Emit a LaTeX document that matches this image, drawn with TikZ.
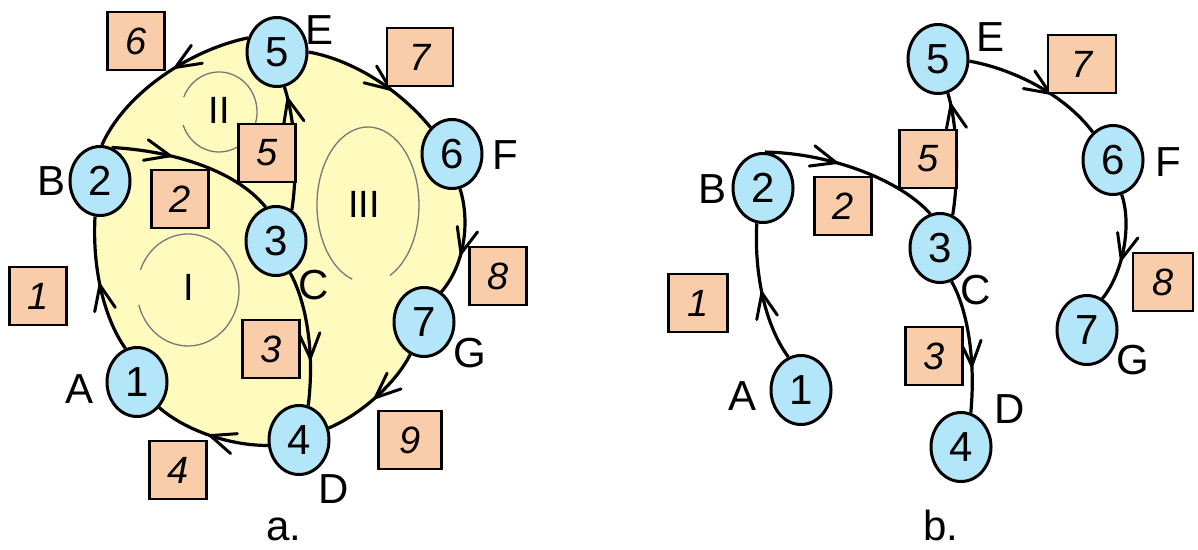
\documentclass[tikz,border=0pt]{standalone}
\usepackage{fontspec}
\setmainfont{Liberation Sans}
\usetikzlibrary{shapes.geometric,decorations.markings,backgrounds}
\definecolor{diskyellow}{RGB}{255,250,190}
\definecolor{vertexblue}{RGB}{180,230,250}
\definecolor{tagpeach}{RGB}{250,205,170}
\definecolor{loopgray}{RGB}{120,120,120}
\begin{document}
\begin{tikzpicture}[x=1pt,y=-1pt,
  vertex/.style={ellipse,draw,line width=3pt,fill=vertexblue,minimum width=60pt,
    minimum height=69pt,inner sep=0pt,font=\fontsize{42}{42}\selectfont},
  tag/.style={rectangle,draw,line width=2.8pt,fill=tagpeach,minimum width=57pt,
    minimum height=58pt,inner sep=0pt,font=\fontsize{38}{38}\selectfont\itshape},
  vlabel/.style={inner sep=0pt,font=\fontsize{42}{42}\selectfont},
  region/.style={inner sep=0pt,font=\fontsize{38}{38}\selectfont},
  link/.style={line width=3.2pt},
  midarrow/.style={postaction={decorate,decoration={markings,
    mark=at position #1 with {\draw[line width=3pt,line cap=round]
      (-25pt,10.5pt) -- (0pt,0pt) -- (-25pt,-10.5pt);}}}},
  looparc/.style={draw=loopgray,line width=1.3pt}
]
\useasboundingbox (0,0) rectangle (1198,549);

% ---------- a. ----------
\node[vertex] (a1) at (137,382) {1};
\node[vertex] (a2) at (100,181) {2};
\node[vertex] (a3) at (276,241) {3};
\node[vertex] (a4) at (299,440) {4};
\node[vertex] (a5) at (277,52) {5};
\node[vertex] (a6) at (452,154) {6};
\node[vertex] (a7) at (424,322) {7};

\node[vlabel] (aA) at (80,389) {A};
\node[vlabel] (aB) at (52,181) {B};
\node[vlabel] (aC) at (314,285) {C};
\node[vlabel] (aD) at (334,489) {D};
\node[vlabel] (aE) at (320,30) {E};
\node[vlabel] (aF) at (505,155) {F};
\node[vlabel] (aG) at (470,353) {G};

% shaded face region bounded by the outer cycle
\begin{scope}[on background layer]
  \fill[diskyellow] (a1.109) .. controls +(-20,-28) and +(-3,55) .. (a2.262)
    -- (a2.87) .. controls +(23,-52) and +(-58,12) .. (a5.154)
    -- (a5.0) .. controls +(45,8) and +(-30,-37) .. (a6.129)
    -- (a6.283) .. controls +(10,32) and +(24,-28) .. (a7.60)
    -- (a7.247) .. controls +(-15,30) and +(31,-13) .. (a4.22)
    -- (a4.190) .. controls +(-40,0) and +(25,22) .. (a1.311) -- cycle;
\end{scope}

% circulation marks of the faces
\draw[looparc] (140.4,269.9) arc[start angle=201,end angle=524.5,x radius=51,y radius=56];
\draw[looparc] (183.8,97.0) arc[start angle=202,end angle=521,x radius=38,y radius=40];
\draw[looparc] (352.2,279.2) arc[start angle=108,end angle=424.5,x radius=51,y radius=78];
\node[region] (rI) at (189,287) {I};
\node[region] (rII) at (219,110) {II};
\node[region] (rIII) at (364,204) {III};

% edges
\draw[link,midarrow=0.5]  (a1.109) .. controls +(-20,-28) and +(-3,55) .. (a2.262);
\draw[link,midarrow=0.35] (a2.71) .. controls +(58,3) and +(-31,-38) .. (a3.107);
\draw[link,midarrow=0.65] (a3.294) .. controls +(15,27) and +(7,-56) .. (a4.75);
\draw[link,midarrow=0.5]  (a4.190) .. controls +(-40,0) and +(25,22) .. (a1.311);
\draw[link,midarrow=0.9]  (a3.63) .. controls +(6,-39) and +(11,34) .. (a5.282);
\draw[link,midarrow=0.42] (a5.154) .. controls +(-58,12) and +(23,-52) .. (a2.87);
\draw[link,midarrow=0.62] (a5.0) .. controls +(45,8) and +(-30,-37) .. (a6.129);
\draw[link,midarrow=0.6]  (a6.283) .. controls +(10,32) and +(24,-28) .. (a7.60);
\draw[link,midarrow=0.5]  (a7.247) .. controls +(-15,30) and +(31,-13) .. (a4.22);

% edge numbers
\node[tag] (t1) at (38,296) {1};
\node[tag] (t2) at (180,199) {2};
\node[tag] (t3) at (271,349) {3};
\node[tag] (t4) at (178,470) {4};
\node[tag] (t5) at (267,153) {5};
\node[tag] (t6) at (136,41) {6};
\node[tag,minimum width=66pt] (t7) at (420,57) {7};
\node[tag] (t8) at (498,276) {8};
\node[tag,minimum width=63pt] (t9) at (410,440) {9};

\node[vlabel,anchor=base] (capa) at (284,540) {a.};

% ---------- b. ----------
\node[vertex] (b1) at (801,390) {1};
\node[vertex] (b2) at (763,188) {2};
\node[vertex] (b3) at (940,248) {3};
\node[vertex] (b4) at (961,447) {4};
\node[vertex] (b5) at (938,59) {5};
\node[vertex] (b6) at (1113,160) {6};
\node[vertex] (b7) at (1087,330) {7};

\node[vlabel] (bA) at (742,396) {A};
\node[vlabel] (bB) at (712,189) {B};
\node[vlabel] (bC) at (976,290) {C};
\node[vlabel] (bD) at (1010,409) {D};
\node[vlabel] (bE) at (990,37) {E};
\node[vlabel] (bF) at (1168,162) {F};
\node[vlabel] (bG) at (1133,360) {G};

\draw[link,midarrow=0.5]  (b1.111) .. controls +(-20,-27) and +(-3,58) .. (b2.260);
\draw[link,midarrow=0.4]  (b2.87) .. controls +(65,1) and +(-30,-34) .. (b3.106);
\draw[link,midarrow=0.9]  (b3.69) .. controls +(6,-35) and +(10,32) .. (b5.286);
\draw[link,midarrow=0.65] (b3.289) .. controls +(16,28) and +(5,-53) .. (b4.74);
\draw[link,midarrow=0.6]  (b5.356) .. controls +(40,7) and +(-30,-40) .. (b6.126);
\draw[link,midarrow=0.6]  (b6.284) .. controls +(10,28) and +(22,-27) .. (b7.64);

\node[tag,minimum width=59pt] (s1) at (698,303) {1};
\node[tag] (s2) at (843,206) {2};
\node[tag] (s3) at (934,356) {3};
\node[tag] (s5) at (928,159) {5};
\node[tag,minimum width=68pt] (s7) at (1082,64) {7};
\node[tag,minimum width=60pt] (s8) at (1163,282) {8};

\node[vlabel,anchor=base] (capb) at (941,540) {b.};
\end{tikzpicture}
\end{document}
